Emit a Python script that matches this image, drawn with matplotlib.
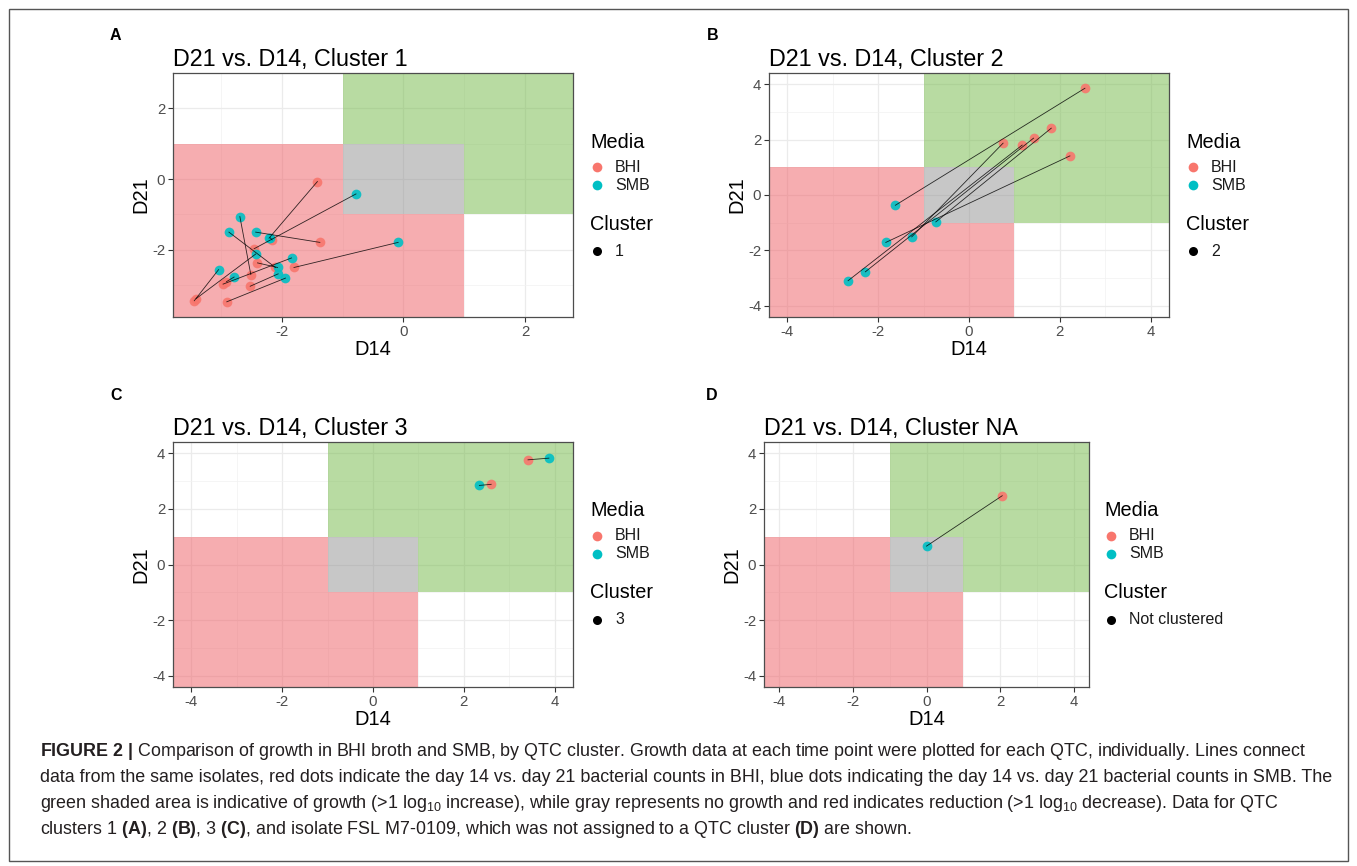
import matplotlib
matplotlib.use("Agg")
import matplotlib.pyplot as plt
from matplotlib.patches import Polygon, Rectangle
from matplotlib.lines import Line2D

plt.rcParams['font.family'] = ['Liberation Sans', 'DejaVu Sans']
plt.rcParams['mathtext.fontset'] = 'custom'
plt.rcParams['mathtext.rm'] = 'Liberation Sans'
plt.rcParams['mathtext.bf'] = 'Liberation Sans:bold'
plt.rcParams['mathtext.it'] = 'Liberation Sans:italic'
plt.rcParams['mathtext.default'] = 'regular'
plt.rcParams['axes.unicode_minus'] = False

# ---------------- data (D14, D21 log counts; each isolate: BHI point and SMB point) -------------
c1_bhi_d14 = [-1.415, -1.374, -2.16, -2.456, -2.40, -2.104, -1.80, -2.51, -2.966, -2.91, -2.52, -3.44, -3.41, -2.905]
c1_bhi_d21 = [-0.07, -1.79, -1.72, -1.97, -2.37, -2.50, -2.50, -2.70, -2.97, -2.90, -3.03, -3.44, -3.38, -3.47]
c1_smb_d14 = [-2.21, -2.43, -2.19, -0.78, -2.07, -2.87, -0.086, -2.69, -1.84, -2.785, -2.06, -3.04, -2.43, -1.94]
c1_smb_d21 = [-1.67, -1.50, -1.66, -0.42, -2.50, -1.50, -1.79, -1.06, -2.23, -2.77, -2.68, -2.56, -2.12, -2.80]

c2_bhi_d14 = [2.55, 0.75, 1.17, 1.42, 1.81, 2.22]
c2_bhi_d21 = [3.85, 1.87, 1.80, 2.05, 2.41, 1.41]
c2_smb_d14 = [-1.62, -1.26, -2.66, -2.28, -0.73, -1.83]
c2_smb_d21 = [-0.37, -1.51, -3.09, -2.77, -0.97, -1.71]

c3_bhi_d14 = [3.41, 2.60]
c3_bhi_d21 = [3.76, 2.88]
c3_smb_d14 = [3.87, 2.34]
c3_smb_d21 = [3.82, 2.84]

cna_bhi_d14 = [2.05]
cna_bhi_d21 = [2.47]
cna_smb_d14 = [0.0]
cna_smb_d21 = [0.66]

titles = ["D21 vs. D14, Cluster 1", "D21 vs. D14, Cluster 2",
          "D21 vs. D14, Cluster 3", "D21 vs. D14, Cluster NA"]
cluster_labels = ["1", "2", "3", "Not clustered"]
panel_letters = ["A", "B", "C", "D"]
media_labels = ["BHI", "SMB"]

# ---------------- styling ----------------
W, H = 1357, 866
BHI_COL = "#F8766D"
SMB_COL = "#00BFC4"
TICK_COL = "#4D4D4D"

fig = plt.figure(figsize=(W / 100, H / 100), dpi=100)
fig.patch.set_facecolor("white")


def prect(l, t, r, b):
    return [l / W, 1 - b / H, (r - l) / W, (b - t) / H]


def fx(px):
    return px / W


def fy(py):
    return 1 - py / H


panels = [
    dict(box=(173, 73, 573, 317), xlim=(-3.79, 2.79), ylim=(-3.9, 3.0),
         ticks=[-2, 0, 2], minor=[-3, -1, 1],
         data=(c1_bhi_d14, c1_bhi_d21, c1_smb_d14, c1_smb_d21), leg_x=590),
    dict(box=(769, 73, 1169, 317), xlim=(-4.4, 4.4), ylim=(-4.4, 4.4),
         ticks=[-4, -2, 0, 2, 4], minor=[-3, -1, 1, 3],
         data=(c2_bhi_d14, c2_bhi_d21, c2_smb_d14, c2_smb_d21), leg_x=1186),
    dict(box=(173, 442, 573, 687), xlim=(-4.4, 4.4), ylim=(-4.4, 4.4),
         ticks=[-4, -2, 0, 2, 4], minor=[-3, -1, 1, 3],
         data=(c3_bhi_d14, c3_bhi_d21, c3_smb_d14, c3_smb_d21), leg_x=590),
    dict(box=(764, 442, 1089, 687), xlim=(-4.4, 4.4), ylim=(-4.4, 4.4),
         ticks=[-4, -2, 0, 2, 4], minor=[-3, -1, 1, 3],
         data=(cna_bhi_d14, cna_bhi_d21, cna_smb_d14, cna_smb_d21), leg_x=1104),
]

letter_pos = [(110, 35), (707, 35), (110, 395), (706, 395)]

for i, p in enumerate(panels):
    l, t, r, b = p["box"]
    ax = fig.add_axes(prect(l, t, r, b))
    ax.set_xlim(*p["xlim"])
    ax.set_ylim(*p["ylim"])
    ax.set_axisbelow(True)
    ax.set_xticks(p["ticks"])
    ax.set_yticks(p["ticks"])
    ax.set_xticks(p["minor"], minor=True)
    ax.set_yticks(p["minor"], minor=True)
    ax.grid(True, which="major", color="#EBEBEB", lw=0.9)
    ax.grid(True, which="minor", color="#F2F2F2", lw=0.5)
    ax.tick_params(which="minor", length=0)
    ax.tick_params(which="major", length=3.5, width=0.8, color="#333333",
                   labelsize=10.8, labelcolor=TICK_COL, pad=2)
    for s in ax.spines.values():
        s.set_color("#4D4D4D")
        s.set_linewidth(0.9)

    # growth regions
    BIG = 50
    ax.add_patch(Polygon([(-BIG, -BIG), (1, -BIG), (1, -1), (-1, -1), (-1, 1), (-BIG, 1)],
                         closed=True, facecolor="#EF5C63", alpha=0.5, lw=0, zorder=1))
    ax.add_patch(Polygon([(-1, 1), (-1, BIG), (BIG, BIG), (BIG, -1), (1, -1), (1, 1)],
                         closed=True, facecolor="#72B946", alpha=0.5, lw=0, zorder=1))
    ax.add_patch(Rectangle((-1, -1), 2, 2, facecolor="#919191", alpha=0.5, lw=0, zorder=1))

    bx, by, sx, sy = p["data"]
    ax.plot(bx, by, "o", color=BHI_COL, ms=7, mew=0, alpha=0.9, zorder=3)
    ax.plot(sx, sy, "o", color=SMB_COL, ms=7, mew=0, alpha=0.9, zorder=3)
    for x0, y0, x1, y1 in zip(bx, by, sx, sy):
        ax.plot([x0, x1], [y0, y1], color="black", lw=0.6, alpha=0.8, zorder=4)

    ax.set_xlabel("D14", fontsize=14.5, labelpad=1)
    ax.set_ylabel("D21", fontsize=14.5, labelpad=1)
    ax.set_title(titles[i], loc="left", fontsize=16.8, pad=5)

    # panel letter
    lx, ly = letter_pos[i]
    fig.text(fx(lx), fy(ly), panel_letters[i], fontsize=11.5, fontweight="bold",
             ha="left", va="center")

    # legend (ggplot style)
    gx = p["leg_x"]
    dy = t - 73
    fig.text(fx(gx), fy(142 + dy), "Media", fontsize=14.3, ha="left", va="center")
    for k, (lab, col) in enumerate(zip(media_labels, [BHI_COL, SMB_COL])):
        yy = 167 + 18 * k + dy
        fig.add_artist(Line2D([fx(gx + 7)], [fy(yy)], marker="o", ms=7, mew=0,
                              color=col, transform=fig.transFigure))
        fig.text(fx(gx + 25), fy(yy), lab, fontsize=11.5, ha="left", va="center",
                 color="#1A1A1A")
    fig.text(fx(gx), fy(224 + dy), "Cluster", fontsize=14.3, ha="left", va="center")
    fig.add_artist(Line2D([fx(gx + 7)], [fy(251 + dy)], marker="o", ms=6.5, mew=0,
                          color="black", transform=fig.transFigure))
    fig.text(fx(gx + 25), fy(251 + dy), cluster_labels[i], fontsize=11.5,
             ha="left", va="center", color="#1A1A1A")

# outer frame
fig.add_artist(Rectangle((fx(9), fy(861)), fx(1348) - fx(9), fy(9) - fy(861),
                         transform=fig.transFigure, fill=False, edgecolor="#555555", lw=1))

caption = [
    r"$\mathbf{FIGURE\ 2\ |}$ Comparison of growth in BHI broth and SMB, by QTC cluster. Growth data at each time point were plotted for each QTC, individually. Lines connect",
    "data from the same isolates, red dots indicate the day 14 vs. day 21 bacterial counts in BHI, blue dots indicating the day 14 vs. day 21 bacterial counts in SMB. The",
    r"green shaded area is indicative of growth (>1 log$_{10}$ increase), while gray represents no growth and red indicates reduction (>1 log$_{10}$ decrease). Data for QTC",
    r"clusters 1 $\mathbf{(A)}$, 2 $\mathbf{(B)}$, 3 $\mathbf{(C)}$, and isolate FSL M7-0109, which was not assigned to a QTC cluster $\mathbf{(D)}$ are shown.",
]
cap_y = [751, 777, 803, 829]
for line, yy in zip(caption, cap_y):
    fig.text(fx(40), fy(yy), line, fontsize=12.9, ha="left", va="center", color="#231F20")

fig.savefig("out.png", dpi=100)
